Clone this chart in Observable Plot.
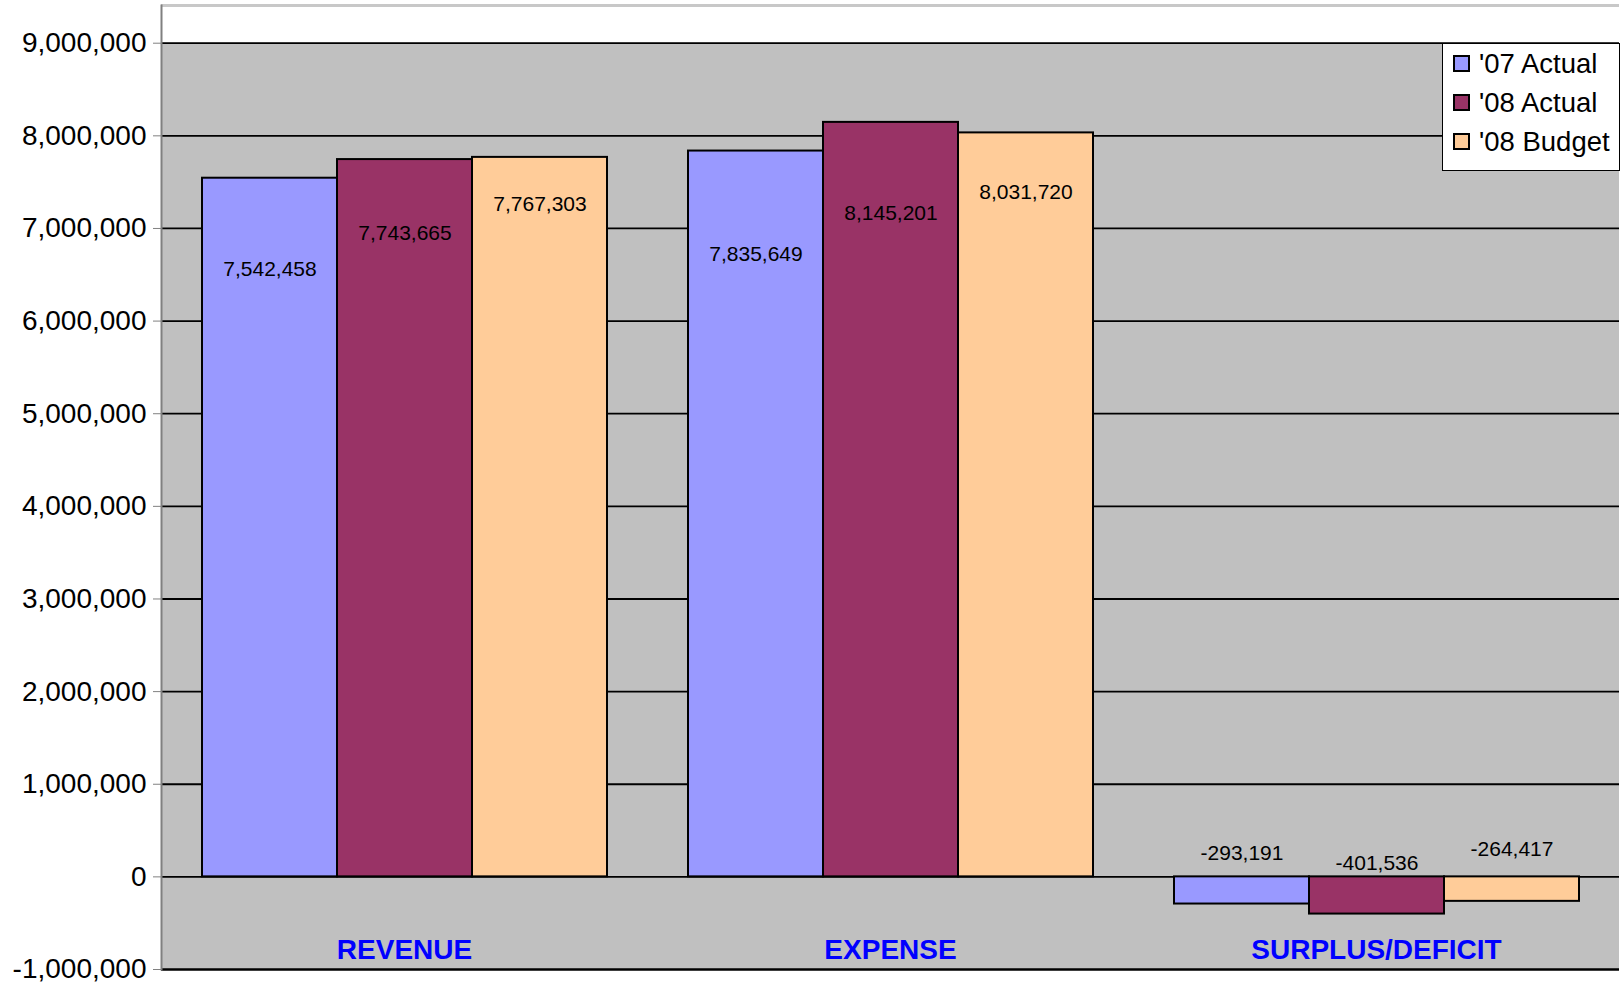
<!DOCTYPE html>
<html><head><meta charset="utf-8">
<script src="https://cdn.jsdelivr.net/npm/d3@7"></script>
<script src="https://cdn.jsdelivr.net/npm/@observablehq/plot@0.6"></script>
<style>
body{margin:0;background:#fff;font-family:"Liberation Sans",Arial,sans-serif;}
#wrap{position:relative;width:1622px;height:987px;}
#legend{position:absolute;left:1442px;top:43px;width:178px;height:128px;background:#fff;border:1px solid #000;box-sizing:border-box;padding-top:0px;}
.item{display:flex;align-items:center;height:39px;font-size:27.5px;color:#000;white-space:nowrap;}
.sw{width:17px;height:17px;box-sizing:border-box;border:2px solid #000;margin-left:10px;margin-right:9px;flex:none;}
</style>
</head><body>
<div id="wrap"><div id="chart"></div><div id="legend"></div></div>
<script>
const categories = ["REVENUE", "EXPENSE", "SURPLUS/DEFICIT"];
const seriesNames = ["'07 Actual", "'08 Actual", "'08 Budget"];
const actual07 = [7542458, 7835649, -293191];
const actual08 = [7743665, 8145201, -401536];
const budget08 = [7767303, 8031720, -264417];
const yTicks = [-1000000, 0, 1000000, 2000000, 3000000, 4000000, 5000000, 6000000, 7000000, 8000000, 9000000];
const colors = ["#9999FF", "#993366", "#FFCC99"];

// label pixel offsets from bar end (as placed in the original)
const labelDy = {"REVENUE": [91, 74, 47], "EXPENSE": [103, 91, 59], "SURPLUS/DEFICIT": [-51, -51, -52]};

const seriesValues = [actual07, actual08, budget08];
const rows = [];
categories.forEach((c, i) => seriesValues.forEach((s, j) => rows.push({category: c, series: seriesNames[j], value: s[i], dy: labelDy[c][j]})));

const fmt = d => d.toLocaleString("en-US");
const font = '"Liberation Sans", Arial, sans-serif';

const chart = Plot.plot({
  width: 1622, height: 987,
  marginLeft: 160, marginRight: 2, marginTop: 5, marginBottom: 18,
  style: {fontFamily: font, background: "transparent", color: "black"},
  fx: {domain: categories, padding: 0, axis: null},
  x: {domain: seriesNames, paddingInner: 0, paddingOuter: 0.3, axis: null},
  y: {domain: [-1000000, 9407000], axis: null},
  color: {domain: seriesNames, range: colors},
  marks: [
    Plot.rect([0], {y1: -1000000, y2: 9000000, fill: "#C0C0C0"}),
    Plot.ruleY([9407000], {stroke: "#C8C8C8", strokeWidth: 3}),
    Plot.ruleY(yTicks.filter(v => v > -1000000), {stroke: "black", strokeWidth: 1.8}),
    Plot.ruleY([-1000000], {stroke: "black", strokeWidth: 2.4}),
    Plot.frame({anchor: "left", stroke: "#808080", strokeWidth: 2, fx: () => categories[0]}),
    Plot.axisY(yTicks, {tickSize: 8, tickPadding: 7, stroke: "#808080", fill: "black", fontSize: 28, tickFormat: fmt, label: null}),
    Plot.barY(rows, {fx: "category", x: "series", y: "value", fill: "series", stroke: "black", strokeWidth: 2}),
    ...rows.map(r => Plot.text([r], {fx: "category", x: "series", y: "value", text: d => fmt(d.value), dy: r.dy, fontSize: 21, fill: "black"})),
    Plot.text(categories, {fx: d => d, y: -790000, text: d => d, fill: "#0000FF", fontWeight: "bold", fontSize: 28})
  ]
});
document.getElementById("chart").appendChild(chart);

const legend = document.getElementById("legend");
seriesNames.forEach((s, i) => {
  const it = document.createElement("div");
  it.className = "item";
  it.innerHTML = `<div class="sw" style="background:${colors[i]}"></div><span>${s}</span>`;
  legend.appendChild(it);
});
</script>
</body></html>
